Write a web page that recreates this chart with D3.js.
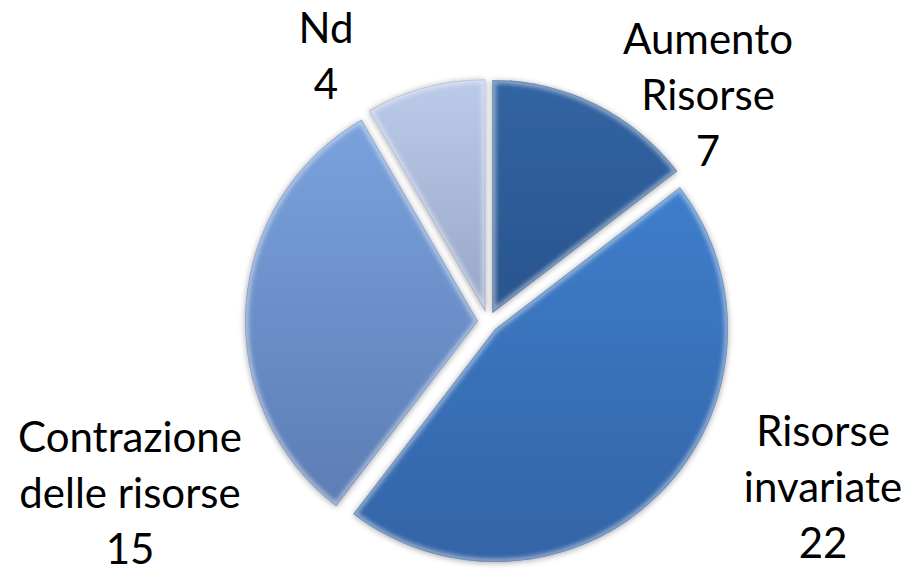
<!DOCTYPE html>
<html>
<head>
<meta charset="utf-8">
<script src="https://cdn.jsdelivr.net/npm/d3@7"></script>
<style>
  html, body { margin: 0; padding: 0; background: #ffffff; }
  svg { display: block; }
  text { font-family: Lato, "Open Sans", sans-serif; fill: #000; }
</style>
</head>
<body>
<svg id="chart" width="912" height="573"></svg>
<script>
// ---- data ----
const categories = ["Aumento Risorse", "Risorse invariate", "Contrazione delle risorse", "Nd"];
const values = [7, 22, 15, 4];
const labelLines = [["Aumento", "Risorse"], ["Risorse", "invariate"], ["Contrazione", "delle risorse"], ["Nd"]];
const colorsTop = ["#3164a3", "#3e7dcb", "#7aa2dd", "#bccbea"];
const colorsBottom = ["#2a548d", "#3464a6", "#5c7db4", "#97a6c6"];

// ---- layout ----
const W = 912, H = 573;
const cx = 488, cy = 322, R = 233, explode = 10;
const fontSize = 42, lineH = 56;
// label anchors: x centre, baseline of first line
const labelLayout = [
  { x: 708, y: 54 },
  { x: 823, y: 446 },
  { x: 130, y: 452 },
  { x: 326, y: 43 }
];

const svg = d3.select("#chart");
const defs = svg.append("defs");

// gradients
values.forEach((v, i) => {
  const g = defs.append("linearGradient")
    .attr("id", "grad" + i)
    .attr("x1", 0).attr("y1", 0).attr("x2", 0).attr("y2", 1);
  g.append("stop").attr("offset", "0%").attr("stop-color", colorsTop[i]);
  g.append("stop").attr("offset", "100%").attr("stop-color", colorsBottom[i]);
});

// filters
const blur = defs.append("filter").attr("id", "bevelBlur")
  .attr("x", "-10%").attr("y", "-10%").attr("width", "120%").attr("height", "120%");
blur.append("feGaussianBlur").attr("stdDeviation", 2.2);

const shadow = defs.append("filter").attr("id", "shadow")
  .attr("x", "-20%").attr("y", "-20%").attr("width", "140%").attr("height", "140%");
shadow.append("feGaussianBlur").attr("in", "SourceAlpha").attr("stdDeviation", 3).attr("result", "b");
shadow.append("feOffset").attr("in", "b").attr("dx", 0).attr("dy", 1).attr("result", "o");
shadow.append("feComponentTransfer").attr("in", "o").attr("result", "s")
  .append("feFuncA").attr("type", "linear").attr("slope", 0.35);
const merge = shadow.append("feMerge");
merge.append("feMergeNode").attr("in", "s");
merge.append("feMergeNode").attr("in", "SourceGraphic");

const pie = d3.pie().sort(null).value(d => d);
const arcs = pie(values);
const arc = d3.arc().innerRadius(0).outerRadius(R);

const root = svg.append("g").attr("transform", `translate(${cx},${cy})`);

arcs.forEach((a, i) => {
  const mid = (a.startAngle + a.endAngle) / 2;
  const dx = Math.sin(mid) * explode, dy = -Math.cos(mid) * explode;
  const g = root.append("g").attr("transform", `translate(${dx},${dy})`);
  const d = arc(a);
  defs.append("clipPath").attr("id", "clip" + i).append("path").attr("d", d);
  g.append("path").attr("d", d).attr("fill", `url(#grad${i})`).attr("filter", "url(#shadow)");
  // bevel: light inner edge
  const bev = g.append("g").attr("clip-path", `url(#clip${i})`);
  bev.append("path").attr("d", d)
    .attr("fill", "none").attr("stroke", "#ffffff").attr("stroke-opacity", 0.45)
    .attr("stroke-width", 7).attr("stroke-linejoin", "round")
    .attr("filter", "url(#bevelBlur)");
  bev.append("path").attr("d", d)
    .attr("fill", "none").attr("stroke", "#000000").attr("stroke-opacity", 0.12)
    .attr("stroke-width", 2);
});

// labels
arcs.forEach((a, i) => {
  const L = labelLayout[i];
  const lines = labelLines[i].concat([String(values[i])]);
  const t = svg.append("text")
    .attr("text-anchor", "middle")
    .attr("font-size", fontSize)
    .attr("x", L.x).attr("y", L.y);
  lines.forEach((ln, j) => {
    t.append("tspan").attr("x", L.x).attr("dy", j === 0 ? 0 : lineH).text(ln);
  });
});
</script>
</body>
</html>
